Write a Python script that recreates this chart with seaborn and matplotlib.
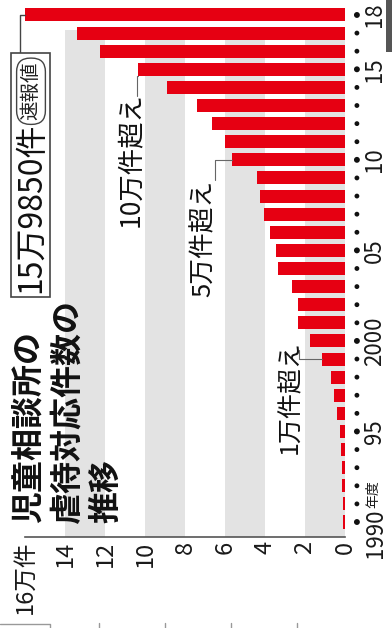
import numpy as np
import pandas as pd
import matplotlib
matplotlib.use("Agg")
import matplotlib.pyplot as plt
import matplotlib.patches as mpatches
import matplotlib.lines as mlines
import seaborn as sns

# ---------------- data ----------------
years = list(range(1990, 2019))
cases_man = [0.1101, 0.1171, 0.1372, 0.1611, 0.1961, 0.2722, 0.4102, 0.5352, 0.6932, 1.1631,
             1.7725, 2.3274, 2.3738, 2.6569, 3.3408, 3.4472, 3.7323, 4.0639, 4.2664, 4.4211,
             5.6384, 5.9919, 6.6701, 7.3802, 8.8931, 10.3286, 12.2575, 13.3778, 15.9850]
value_ticks = [0, 2, 4, 6, 8, 10, 12, 14, 16]
value_tick_labels = ["0", "2", "4", "6", "8", "10", "12", "14", "16万件"]
band_ranges = [(0, 2), (4, 6), (8, 10), (12, 14)]
year_ticks = [1990, 1995, 2000, 2005, 2010, 2015, 2018]
year_tick_labels = ["1990", "95", "2000", "05", "10", "15", "18"]
year_suffix = "年度"
title_lines = ["児童相談所の", "虐待対応件数の", "推移"]
latest_label = "15万9850件"
latest_note = "速報値"
milestone_years = [1999, 2010, 2015]
milestone_labels = ["1万件超え", "5万件超え", "10万件超え"]

df = pd.DataFrame({"year": years, "cases": cases_man})

# ---------------- style ----------------
sns.set_style("white")
CJK = ["Noto Sans CJK JP", "DejaVu Sans"]
plt.rcParams["font.family"] = CJK
RED = "#e60012"
BAND = "#e3e3e3"
INK = "#1a1a1a"

W, H = 392, 628
fig = plt.figure(figsize=(W / 100, H / 100), dpi=100)
ax = fig.add_axes([23 / W, (H - 536.5) / H, 322 / W, 533.3 / H])

def fx(px):
    return px / W

def fy(py):
    return (H - py) / H

# gray bands
for lo, hi in band_ranges:
    ax.axvspan(lo, hi, ymin=0, ymax=0.95, color=BAND, lw=0, zorder=0)

sns.barplot(data=df, x="cases", y="year", orient="h", native_scale=True,
            color=RED, saturation=1, width=0.72, linewidth=0, ax=ax, zorder=2)

ax.set_xlim(16.1, 0)
ax.set_ylim(1989.2, 2018.65)
ax.set_xlabel("")
ax.set_ylabel("")

for s in ["left", "right", "top"]:
    ax.spines[s].set_visible(False)
ax.spines["bottom"].set_color("#555555")
ax.spines["bottom"].set_linewidth(1.2)
ax.spines["bottom"].set_bounds(0, 16)

ax.set_xticks(value_ticks)
ax.set_xticklabels(value_tick_labels)
ax.tick_params(axis="x", direction="in", length=4, width=1, color="#555555",
               pad=3, labelsize=17, labelrotation=90, labelcolor=INK)

ax.yaxis.set_ticks_position("right")
ax.set_yticks(year_ticks)
ax.set_yticklabels([""] + year_tick_labels[1:])
ax.tick_params(axis="y", length=0, pad=13, labelsize=16, labelrotation=90, labelcolor=INK)
for lab in ax.get_yticklabels():
    lab.set_va("center")
    lab.set_ha("left")

# dots at each year
ax.scatter(np.full(len(years), 1.037), years, transform=ax.get_yaxis_transform(),
           s=[18 if y in year_ticks else 12 for y in years], color="#111111",
           clip_on=False, zorder=5, linewidths=0)

# 1990 label with 年度
ytr = ax.get_yaxis_transform()
ax.annotate(year_tick_labels[0], xy=(1.0, year_ticks[0]), xycoords=ytr,
            xytext=(19, 14), textcoords="offset pixels", rotation=90,
            ha="left", va="top", fontsize=16, color=INK, annotation_clip=False)
ax.annotate(year_suffix, xy=(1.0, year_ticks[0]), xycoords=ytr,
            xytext=(21, 14), textcoords="offset pixels", rotation=90,
            ha="left", va="bottom", fontsize=10, color=INK, annotation_clip=False)

# title
fig.text(fx(13), fy(523), "\n".join(title_lines), rotation=90, rotation_mode="anchor",
         ha="left", va="top", fontsize=23, fontweight="bold", color="#111111",
         linespacing=1.26, multialignment="left")

# callout box for latest value
fig.add_artist(mpatches.Rectangle((fx(11), fy(297)), fx(50) - fx(11), fy(53) - fy(297),
                                  transform=fig.transFigure, fill=True, fc="white",
                                  ec="#444444", lw=1.2, zorder=3))
fig.text(fx(31), fy(293), latest_label, rotation=90, rotation_mode="anchor",
         ha="left", va="center", fontsize=23, color="#111111", zorder=4)
fig.text(fx(31), fy(62), latest_note, rotation=90, rotation_mode="anchor",
         ha="right", va="center", fontsize=14, color="#222222", zorder=4,
         bbox=dict(boxstyle="round,pad=0.2,rounding_size=0.7", fc="white", ec="#444444", lw=1))
ax.annotate("", xy=(cases_man[-1], years[-1]), xycoords="data",
            xytext=(20, H - 53), textcoords="figure pixels",
            arrowprops=dict(arrowstyle="-", connectionstyle="angle,angleA=90,angleB=0,rad=0",
                            shrinkA=0, shrinkB=0, lw=1, color="#444444"),
            annotation_clip=False)

# milestone labels
cval = dict(zip(years, cases_man))
# 1万件超え
fig.text(fx(290), fy(454), milestone_labels[0], rotation=90, rotation_mode="anchor",
         ha="left", va="center", fontsize=18, color="#111111")
ax.annotate("", xy=(cval[milestone_years[0]], milestone_years[0]), xycoords="data",
            xytext=(299, H - 350), textcoords="figure pixels",
            arrowprops=dict(arrowstyle="-", connectionstyle="angle,angleA=90,angleB=0,rad=0",
                            shrinkA=0, shrinkB=0, lw=0.8, color="#666666"))
# 5万件超え
fig.text(fx(204), fy(297), milestone_labels[1], rotation=90, rotation_mode="anchor",
         ha="left", va="center", fontsize=18.5, color="#111111")
ax.annotate("", xy=(cval[milestone_years[1]], milestone_years[1]), xycoords="data",
            xytext=(215, H - 180), textcoords="figure pixels",
            arrowprops=dict(arrowstyle="-", connectionstyle="angle,angleA=90,angleB=0,rad=0",
                            shrinkA=0, shrinkB=0, lw=0.8, color="#666666"))
# 10万件超え
fig.text(fx(130), fy(227), milestone_labels[2], rotation=90, rotation_mode="anchor",
         ha="left", va="center", fontsize=19, color="#111111")
ax.annotate("", xy=(cval[milestone_years[2]], milestone_years[2] - 0.36), xycoords="data",
            xytext=(137, H - 96), textcoords="figure pixels",
            arrowprops=dict(arrowstyle="-", connectionstyle="angle,angleA=90,angleB=0,rad=0",
                            shrinkA=0, shrinkB=0, lw=0.8, color="#666666"))

# page artifacts (edge of clipping)
fig.add_artist(mpatches.Rectangle((fx(386), fy(52)), fx(392) - fx(386), fy(0) - fy(52),
                                  transform=fig.transFigure, color="#555555", lw=0))
fig.add_artist(mlines.Line2D([fx(0), fx(50), fx(50)], [fy(624), fy(624), fy(628)],
                             transform=fig.transFigure, color="#999999", lw=1))
for px in [99, 165, 231, 297]:
    fig.add_artist(mlines.Line2D([fx(px), fx(px)], [fy(623), fy(628)],
                                 transform=fig.transFigure, color="#999999", lw=1))

fig.savefig("out.png", dpi=100)
